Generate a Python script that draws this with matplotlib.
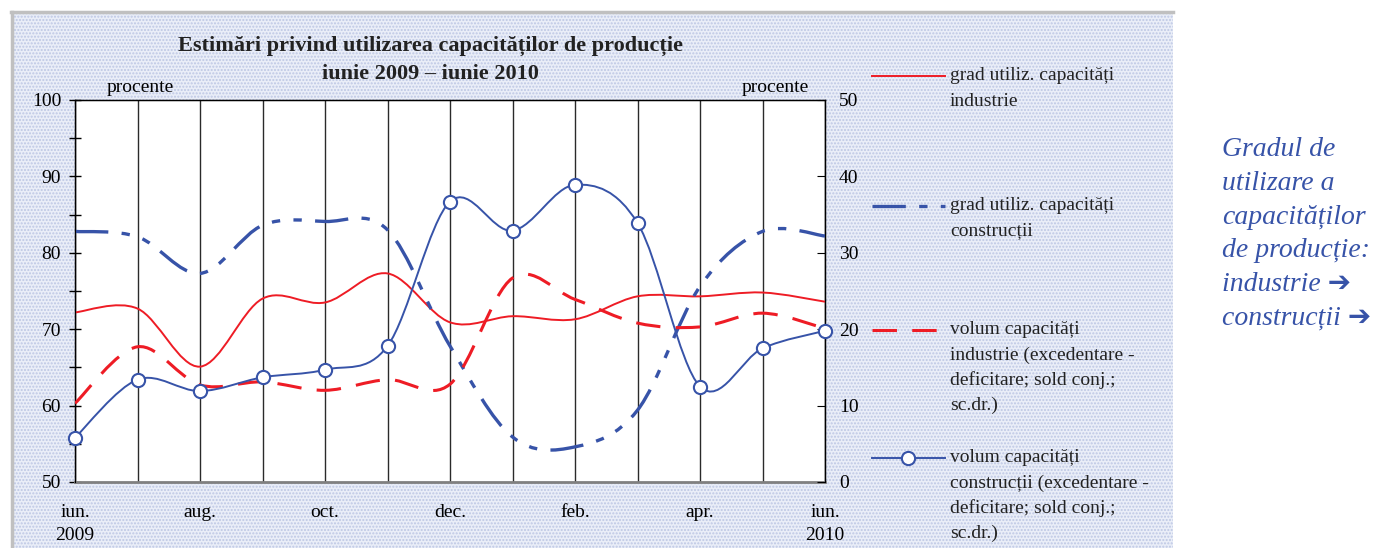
import numpy as np
import matplotlib
matplotlib.use('Agg')
import matplotlib.pyplot as plt
from matplotlib.path import Path
from matplotlib.patches import PathPatch, Rectangle
from matplotlib.lines import Line2D

plt.rcParams['font.family'] = ['Liberation Serif', 'DejaVu Sans']
plt.rcParams['hatch.linewidth'] = 1.0

# month labels (every 2nd month labelled)
months = ['iun.\n2009', 'iul.', 'aug.', 'sep.', 'oct.', 'nov.', 'dec.',
          'ian.', 'feb.', 'mar.', 'apr.', 'mai', 'iun.\n2010']
tick_labels = ['iun.\n2009', 'aug.', 'oct.', 'dec.', 'feb.', 'apr.', 'iun.\n2010']

# left axis (procente)
grad_ind = [72.2, 72.7, 65.1, 74.0, 73.5, 77.3, 70.9, 71.7, 71.3, 74.3, 74.3, 74.8, 73.6]
grad_constr = [82.8, 82.1, 77.3, 83.6, 84.1, 83.0, 67.8, 55.9, 54.6, 59.4, 75.6, 82.8, 82.2]
# right axis (sold conjunctural)
vol_ind = [10.3, 17.7, 12.7, 13.1, 12.0, 13.4, 12.8, 26.7, 23.9, 20.8, 20.3, 22.1, 20.1]
vol_constr = [5.8, 13.4, 11.9, 13.7, 14.7, 17.8, 36.7, 32.9, 38.9, 33.9, 12.5, 17.5, 19.8]

RED = '#ee1c25'
BLUE = '#3753a8'
DASHDOT = (0, (10, 4, 2.5, 4, 2.5, 4))
DASHED = (0, (8, 5))


def smooth_path(xs, ys):
    # Catmull-Rom spline converted to cubic Bezier segments (Excel-like smoothed line)
    p = np.column_stack([xs, ys]).astype(float)
    p_ext = np.vstack([p[0], p, p[-1]])
    verts = [p[0]]
    codes = [Path.MOVETO]
    for i in range(len(p) - 1):
        p0, p1, p2, p3 = p_ext[i], p_ext[i + 1], p_ext[i + 2], p_ext[i + 3]
        c1 = p1 + (p2 - p0) / 6.0
        c2 = p2 - (p3 - p1) / 6.0
        verts += [c1, c2, p2]
        codes += [Path.CURVE4] * 3
    return Path(verts, codes)


W, H = 1386, 548
fig = plt.figure(figsize=(W / 100, H / 100), dpi=100)

# dotted background panel
bg = Rectangle((11 / W, 0), (1173 - 11) / W, 1 - 13 / H, transform=fig.transFigure,
               facecolor='#eaeef8', edgecolor='#bdc7e4', hatch='.....', lw=0, zorder=-10)
fig.add_artist(bg)
fig.add_artist(Line2D([11 / W, 1173 / W], [1 - 12 / H, 1 - 12 / H], transform=fig.transFigure,
                      color='#c0c0c0', lw=2.5, zorder=-9))
fig.add_artist(Line2D([12 / W, 12 / W], [0, 1 - 12 / H], transform=fig.transFigure,
                      color='#c0c0c0', lw=2.5, zorder=-9))

ax = fig.add_axes([75 / W, 1 - 482 / H, 750 / W, 382 / H])
ax.set_facecolor('white')
x = np.arange(len(months))

ax.add_patch(PathPatch(smooth_path(x, grad_ind), fill=False, edgecolor=RED, lw=1.4, zorder=3))
ax.add_patch(PathPatch(smooth_path(x, grad_constr), fill=False, edgecolor=BLUE, lw=2.4,
                       linestyle=DASHDOT, zorder=3))
ax.set_xlim(0, 12)
ax.set_ylim(50, 100)
ax.set_yticks(np.arange(50, 101, 10))
ax.set_yticks(np.arange(55, 100, 10), minor=True)
ax.set_xticks(x[::2])
ax.set_xticklabels(tick_labels, linespacing=1.45)
ax.set_xticks(x, minor=True)
ax.grid(True, which='both', axis='x', color='#2a2a2a', lw=1.0)
ax.tick_params(axis='x', which='both', length=0, pad=16, labelsize=14)
ax.tick_params(axis='y', which='both', direction='inout', length=8, width=1, labelsize=14, pad=6)
for s in ['left', 'top', 'right']:
    ax.spines[s].set_color('black')
    ax.spines[s].set_linewidth(1)
ax.spines['bottom'].set_color('#808080')
ax.spines['bottom'].set_linewidth(2)

ax2 = ax.twinx()
ax2.add_patch(PathPatch(smooth_path(x, vol_ind), fill=False, edgecolor=RED, lw=2.2,
                        linestyle=DASHED, zorder=3))
ax2.add_patch(PathPatch(smooth_path(x, vol_constr), fill=False, edgecolor=BLUE, lw=1.4, zorder=3))
ax2.plot(x, vol_constr, 'o', ms=9.5, mfc='white', mec=BLUE, mew=1.5, zorder=4, clip_on=False)
ax2.set_ylim(0, 50)
ax2.set_yticks(np.arange(0, 51, 10))
ax2.tick_params(axis='y', direction='in', length=6, labelsize=14, pad=10)
ax2.spines['bottom'].set_visible(False)
for s in ['left', 'top', 'right']:
    ax2.spines[s].set_color('black')

fig.text(140 / W, 1 - 88 / H, 'procente', ha='center', va='center', fontsize=14)
fig.text(775 / W, 1 - 88 / H, 'procente', ha='center', va='center', fontsize=14)

fig.text(430 / W, 1 - 46 / H, 'Estimări privind utilizarea capacităților de producție',
         ha='center', va='center', fontsize=16, fontweight='bold', color='#222222')
fig.text(430 / W, 1 - 74 / H, 'iunie 2009 – iunie 2010',
         ha='center', va='center', fontsize=16, fontweight='bold', color='#222222')

# legend drawn manually on the right side of the panel
leg = [
    (76, dict(color=RED, lw=1.4), ['grad utiliz. capacități', 'industrie']),
    (206, dict(color=BLUE, lw=2.4, linestyle=DASHDOT), ['grad utiliz. capacități', 'construcții']),
    (330, dict(color=RED, lw=2.2, linestyle=DASHED),
     ['volum capacități', 'industrie (excedentare -', 'deficitare; sold conj.;', 'sc.dr.)']),
    (458, dict(color=BLUE, lw=1.4, marker='o', ms=9.5, mfc='white', mec=BLUE, mew=1.5, markevery=[1]),
     ['volum capacități', 'construcții (excedentare -', 'deficitare; sold conj.;', 'sc.dr.)']),
]
for yy, style, lines in leg:
    fig.add_artist(Line2D([872 / W, 908 / W, 945 / W], [1 - yy / H] * 3,
                          transform=fig.transFigure, **style))
    for k, t in enumerate(lines):
        fig.text(950 / W, 1 - (yy + 25 * k) / H, t, ha='left', va='center', fontsize=14,
                 color='#222222')

side = ['Gradul de', 'utilizare a', 'capacităților', 'de producție:', 'industrie ➔', 'construcții ➔']
for k, t in enumerate(side):
    fig.text(1222 / W, 1 - (150 + 33.6 * k) / H, t, ha='left', va='center', fontsize=20,
             style='italic', color=BLUE)

fig.savefig('out.png', dpi=100)
